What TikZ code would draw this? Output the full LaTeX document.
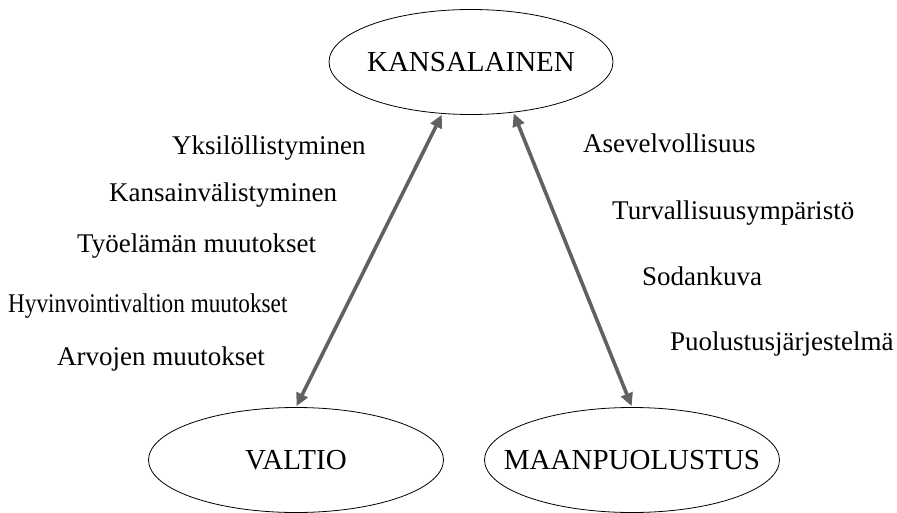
\documentclass[tikz,border=0pt]{standalone}
\usepackage{fontspec}
\setmainfont{Liberation Serif}
\usetikzlibrary{shapes.geometric,arrows.meta}

\begin{document}
\begin{tikzpicture}[x=1pt,y=-1pt,
		kehys/.style={draw=black,line width=0.8pt,ellipse,minimum width=295pt,minimum height=105pt,inner sep=0pt,inner xsep=-30pt,font=\fontsize{29}{33}\selectfont},
		teksti/.style={anchor=base west,inner sep=0pt,font=\fontsize{27}{31}\selectfont},
		nuoli/.style={draw=black!62,line width=3.6pt,{Triangle[length=13pt,width=12pt]}-{Triangle[length=13pt,width=12pt]},shorten <=1pt,shorten >=1pt}]
		\useasboundingbox (0,0) rectangle (897,513);
		\node[kehys,minimum width=284pt] (kansalainen) at (471,62) {KANSALAINEN};
		\node[kehys] (valtio) at (296,460) {VALTIO};
		\node[kehys] (maanpuolustus) at (632,460) {MAANPUOLUSTUS};
		\draw[nuoli] (kansalainen.241) -- (valtio.north);
		\draw[nuoli] (kansalainen.310) -- (maanpuolustus.north);
		\node[teksti] (yksil) at (172,155) {Yksilöllistyminen};
		\node[teksti] (kansainv) at (109,202) {Kansainvälistyminen};
		\node[teksti] (tyoel) at (77,252) {Työelämän muutokset};
		\node[teksti] (hyvinv) at (8,312) {\scalebox{0.86}[1]{Hyvinvointivaltion muutokset}};
		\node[teksti] (arvot) at (57,365) {Arvojen muutokset};
		\node[teksti] (asevel) at (583,153) {Asevelvollisuus};
		\node[teksti] (turval) at (612,220) {Turvallisuusympäristö};
		\node[teksti] (sodank) at (642,285) {Sodankuva};
		\node[teksti] (puolust) at (670,350) {Puolustusjärjestelmä};
		%\draw[nuoli] (valtio.east) -- (maanpuolustus.west);
	\end{tikzpicture}
\end{document}
